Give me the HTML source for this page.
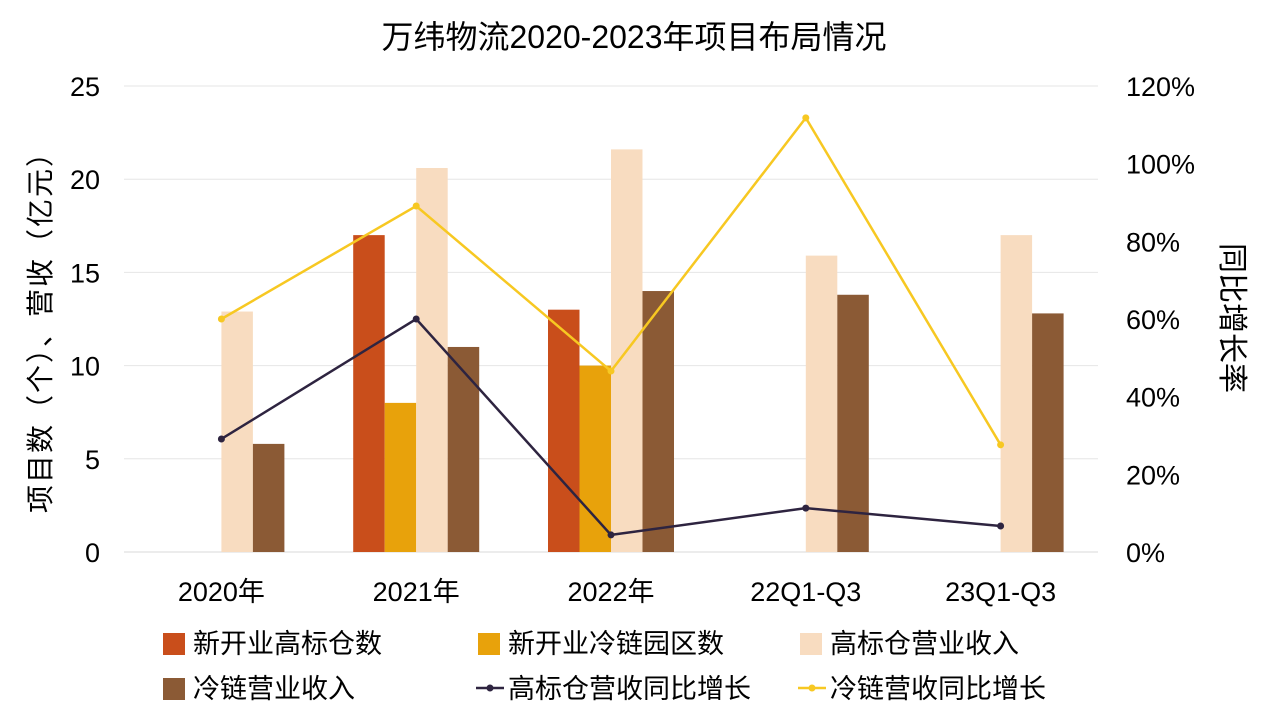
<!DOCTYPE html>
<html><head><meta charset="utf-8"><style>
body{margin:0;background:#fff;}
svg text{font-family:"Liberation Sans","Noto Sans CJK SC",sans-serif;fill:#000;}
</style></head><body>
<svg id="c" width="1269" height="714">
<text x="634" y="48" font-size="32" text-anchor="middle">万纬物流2020-2023年项目布局情况</text>
<g id="grid"></g><g id="bars"></g><g id="lines"></g><g id="axes"></g><g id="legend"></g>
<text transform="translate(50,325) rotate(-90)" font-size="28" letter-spacing="2" text-anchor="middle">项目数（个）、营收（亿元）</text>
<text transform="translate(1222,318) rotate(90)" font-size="30" text-anchor="middle">同比增长率</text>
</svg>
<script>
const categories=["2020年","2021年","2022年","22Q1-Q3","23Q1-Q3"];
const newWarehouses=[null,17,13,null,null];
const newColdParks=[null,8,10,null,null];
const warehouseRevenue=[12.9,20.6,21.6,15.9,17];
const coldRevenue=[5.8,11,14,13.8,12.8];
const warehouseGrowth=[29.1,60,4.4,11.3,6.7];
const coldGrowth=[60,89.1,46.6,111.8,27.6];
const leftTicks=[0,5,10,15,20,25];
const rightTicks=["0%","20%","40%","60%","80%","100%","120%"];
const NS="http://www.w3.org/2000/svg";
const x0=124,x1=1098,yB=552,yT=86;
const band=(x1-x0)/categories.length;
const cx=i=>x0+band*(i+0.5);
const yL=v=>yB-(v/25)*(yB-yT);
const yR=v=>yB-(v/120)*(yB-yT);
function mk(t,a,p){const e=document.createElementNS(NS,t);for(const k in a)e.setAttribute(k,a[k]);p.appendChild(e);return e;}
const grid=document.getElementById('grid'),axes=document.getElementById('axes');
leftTicks.forEach(v=>{
 const g=mk('line',{x1:x0,x2:x1,y1:yL(v),y2:yL(v),stroke:v===0?'#d9d9d9':'#e6e6e6','stroke-width':1},grid);
 
 
 const t=mk('text',{x:100,y:yL(v)+10,'font-size':27,'text-anchor':'end'},axes);t.textContent=v;
 
 
});
rightTicks.forEach((s,i)=>{
 const t=mk('text',{x:1126,y:yR(i*20)+10,'font-size':27},axes);t.textContent=s;
 
 
});
categories.forEach((c,i)=>{
 const t=mk('text',{x:cx(i),y:601,'font-size':27,'text-anchor':'middle'},axes);t.textContent=c;
 
 
});
const series=[[newWarehouses,'#c94e1b','new-warehouse-bar'],[newColdParks,'#e8a20b','new-cold-park-bar'],[warehouseRevenue,'#f8dcc0','warehouse-revenue-bar'],[coldRevenue,'#8b5a35','cold-revenue-bar']];
const bw=31.5,bars=document.getElementById('bars');
series.forEach((s,k)=>{s[0].forEach((v,i)=>{if(v==null)return;
 const x=cx(i)+(k-2)*bw;
 const r=mk('rect',{x:x,y:yL(v),width:bw,height:yB-yL(v),fill:s[1]},bars);
 
 
});});
const lines=document.getElementById('lines');
[[warehouseGrowth,'#2e2440','warehouse-growth-line'],[coldGrowth,'#f7c822','cold-growth-line']].forEach(s=>{
 const p=mk('polyline',{points:s[0].map((v,i)=>cx(i)+','+yR(v)).join(' '),fill:'none',stroke:s[1],'stroke-width':2.5},lines);
 
 
 s[0].forEach((v,i)=>{const c=mk('circle',{cx:cx(i),cy:yR(v),r:3.5,fill:s[1]},lines);
  
  });
});
const lg=document.getElementById('legend');
const items=[['rect','#c94e1b','新开业高标仓数',163,643],['rect','#e8a20b','新开业冷链园区数',478,643],['rect','#f8dcc0','高标仓营业收入',800,643],['rect','#8b5a35','冷链营业收入',163,688],['line','#2e2440','高标仓营收同比增长',478,688],['line','#f7c822','冷链营收同比增长',800,688]];
items.forEach(it=>{
 const g=mk('g',{},lg);
 
 
 if(it[0]==='rect')mk('rect',{x:it[3],y:it[4]-10,width:22,height:22,fill:it[1]},g);
 else{mk('line',{x1:it[3]-2,x2:it[3]+26,y1:it[4],y2:it[4],stroke:it[1],'stroke-width':2.5},g);mk('circle',{cx:it[3]+12,cy:it[4],r:3.5,fill:it[1]},g);}
 const t=mk('text',{x:it[3]+30,y:it[4]+10,'font-size':27},g);t.textContent=it[2];
});
</script>
</body></html>
